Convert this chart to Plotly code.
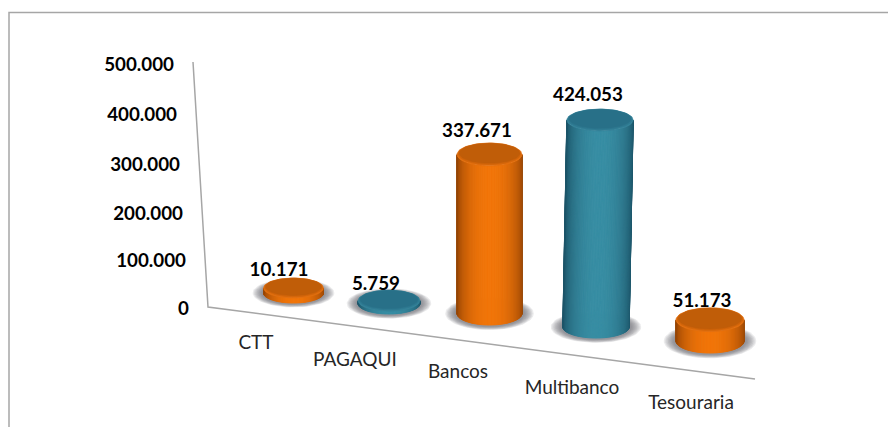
import plotly.graph_objects as go
import numpy as np

# ---- data ----
categories = ["CTT", "PAGAQUI", "Bancos", "Multibanco", "Tesouraria"]
values = [10171, 5759, 337671, 424053, 51173]
value_labels = ["10.171", "5.759", "337.671", "424.053", "51.173"]
tick_values = [0, 100000, 200000, 300000, 400000, 500000]
tick_labels = ["0", "100.000", "200.000", "300.000", "400.000", "500.000"]
series_colors = ["orange", "teal", "orange", "teal", "orange"]

# ---- layout of the oblique view (pixels of the 888x427 frame) ----
W, H = 888, 427
ZERO_PX = 308.0
UNITS_PER_PX = 500000 / 244.0

def Y(px):
    return (ZERO_PX - px) * UNITS_PER_PX

center_x = [293.5, 389, 489.5, 596, 710]
lean_x = [0, 0, 0, 4, 0]
base_y = [293, 303.5, 313.5, 327, 341]
radius_x = [30, 31, 32.5, 33.2, 34]
radius_y = [10, 10.5, 11.5, 11, 12]
depth_scale = [1.0, 1.0, 0.965, 1.0, 0.85]
cat_x = [256, 355, 458, 572, 691]
cat_y = [344, 361, 373, 389, 404]
lab_x = [279, 376, 477, 588, 702]
lab_y = [271, 285, 132, 96, 302]
tick_x = [189, 186, 183, 180, 177, 174]
tick_offset = [2, 3, 4.5, 4.5, 4, 2]

palette = {
    "orange": dict(edge=(150, 70, 6), mid=(242, 118, 10), top=(192, 93, 8), rim=(226, 110, 14), soft=(208, 100, 10)),
    "teal": dict(edge=(28, 84, 104), mid=(56, 142, 164), top=(40, 112, 136), rim=(52, 130, 152), soft=(46, 120, 144)),
}

def mix(a, b, t):
    return "rgb(%d,%d,%d)" % tuple(a[i] + (b[i] - a[i]) * t for i in range(3))

def rgb(a):
    return "rgb(%d,%d,%d)" % tuple(a)

fig = go.Figure()

def poly(xs, ys, color, width=1.0):
    fig.add_trace(go.Scatter(x=list(xs), y=list(ys), mode="lines", fill="toself", fillcolor=color,
                             line=dict(color=color, width=width), hoverinfo="skip", showlegend=False))

def shadow(cx, cy_val, rx, ry_px, color):
    t = np.linspace(0, 2 * np.pi, 73)
    fig.add_trace(go.Scatter(x=list(cx + rx * np.cos(t)), y=list(cy_val + ry_px * UNITS_PER_PX * np.sin(t)),
                             mode="lines", fill="toself", fillcolor=color, line=dict(width=0),
                             hoverinfo="skip", showlegend=False))

def ellipse(cx, cy_val, rx, ry_px, color):
    t = np.linspace(0, 2 * np.pi, 73)
    poly(cx + rx * np.cos(t), cy_val + ry_px * UNITS_PER_PX * np.sin(t), color, 0.6)

def line(xs, ys_px):
    fig.add_trace(go.Scatter(x=xs, y=[Y(p) for p in ys_px], mode="lines",
                             line=dict(color="#a6a6a6", width=1.5), hoverinfo="skip", showlegend=False))

# frame and the two axis lines
line([9, 9, W], [H, 12.5, 12.5])
line([193, 208, 755], [62, 307, 379])

# cylinders
for i, v in enumerate(values):
    c = palette[series_colors[i]]
    cx, rx, ry = center_x[i], radius_x[i], radius_y[i]
    base = Y(base_y[i])
    top = base + v * depth_scale[i]
    dx = lean_x[i]
    # soft floor shadow
    for grow in [1.36, 1.32, 1.28, 1.24, 1.20, 1.16, 1.12, 1.08]:
        shadow(cx, base, rx * grow, ry * (grow + 0.08), "rgba(100,100,112,0.13)")
    # side wall made of shaded strips following the round front
    n = 72
    th = np.linspace(0, np.pi, n + 1)
    ry_u = ry * UNITS_PER_PX
    for k in range(n):
        a = np.linspace(th[k], th[k + 1], 3)
        shade = np.sin((a[0] + a[-1]) / 2) ** 1.3
        bx, by = cx + rx * np.cos(a), base - ry_u * np.sin(a)
        tx, ty = cx + dx + rx * np.cos(a), top - ry_u * np.sin(a)
        poly(np.r_[bx, tx[::-1], bx[0]], np.r_[by, ty[::-1], by[0]], mix(c["edge"], c["mid"], shade))
    # top face: lighter rim, softer step, darker disc
    ellipse(cx + dx, top, rx, ry, rgb(c["rim"]))
    ellipse(cx + dx, top + 0.6 * UNITS_PER_PX, rx * 0.965, ry * 0.93, rgb(c["soft"]))
    ellipse(cx + dx, top + 1.2 * UNITS_PER_PX, rx * 0.93, ry * 0.86, rgb(c["top"]))

# category labels
fig.add_trace(go.Scatter(x=cat_x, y=[Y(p) for p in cat_y], mode="text", text=categories,
                         textposition="middle center", hoverinfo="skip", showlegend=False,
                         textfont=dict(family="Lato", size=19, color="#262626")))
# value labels
fig.add_trace(go.Scatter(x=lab_x, y=[Y(p) for p in lab_y], mode="text", text=value_labels,
                         textposition="middle center", hoverinfo="skip", showlegend=False,
                         textfont=dict(family="Lato", size=18.8, color="#000000", weight="bold")))
# value axis labels
fig.add_trace(go.Scatter(x=tick_x, y=[t - o * UNITS_PER_PX for t, o in zip(tick_values, tick_offset)],
                         mode="text", text=tick_labels, textposition="middle left",
                         hoverinfo="skip", showlegend=False,
                         textfont=dict(family="Lato", size=18.8, color="#000000", weight="bold")))

fig.update_layout(
    width=W, height=H, margin=dict(l=0, r=0, t=0, b=0),
    paper_bgcolor="white", plot_bgcolor="white", showlegend=False,
    xaxis=dict(range=[0, W], visible=False, fixedrange=True),
    yaxis=dict(range=[Y(H), Y(0)], visible=False, fixedrange=True),
)
fig.write_html("out.html", config=dict(displayModeBar=False),
               post_script="document.body.style.margin='0';")
